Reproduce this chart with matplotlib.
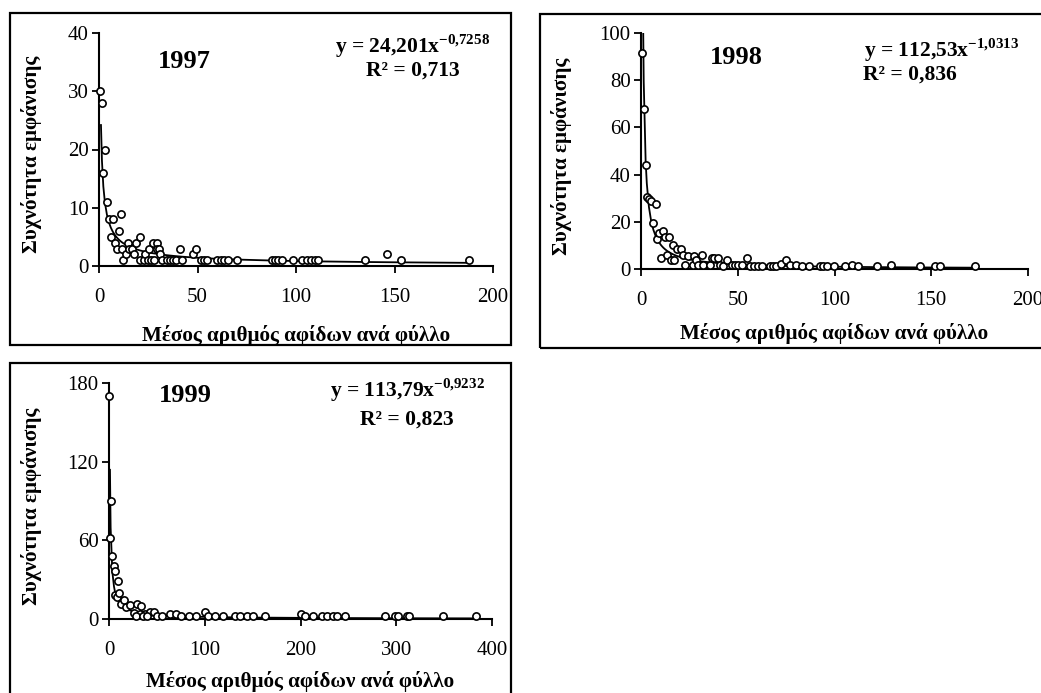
import numpy as np
import matplotlib
matplotlib.use('Agg')
import matplotlib.pyplot as plt
from matplotlib.patches import Rectangle

plt.rcParams['font.family'] = ['Liberation Serif', 'DejaVu Serif']
plt.rcParams['mathtext.fontset'] = 'custom'
plt.rcParams['mathtext.rm'] = 'Liberation Serif'
plt.rcParams['mathtext.bf'] = 'Liberation Serif:bold'

# --- data ---
x_1997 = [0.5, 1.5, 2.2, 3, 4, 5, 6, 7, 8, 9, 10, 11, 11.5, 12, 13.5, 14.6, 15, 17, 18, 19,
          20.7, 21, 22.7, 23.5, 24.7, 25.2, 26.2, 27.3, 28, 29.3, 29.5, 30.3, 31, 31.8, 34.4,
          36, 37.8, 39, 41, 42, 47.6, 49, 52, 53.3, 54.7, 60, 61.8, 63.5, 65.4, 70.3, 87.7,
          89.4, 91, 92.8, 98.7, 103, 105.5, 107.7, 109.7, 111.4, 134.8, 146, 153.3, 187.6]
y_1997 = [30, 28, 16, 20, 11, 8, 5, 8, 4, 3, 6, 9, 3, 1, 2, 4, 3, 3, 2, 4,
          5, 1, 1, 2, 1, 3, 1, 4, 1, 4, 3, 3, 2, 1, 1,
          1, 1, 1, 3, 1, 2, 3, 1, 1, 1, 1, 1, 1, 1, 1, 1,
          1, 1, 1, 1, 1, 1, 1, 1, 1, 1, 2, 1, 1]

x_1998 = [0.5, 1.4, 2.4, 3, 4.1, 5.2, 6.4, 7.6, 8.3, 9.3, 10.5, 11.5, 12.2, 13.3, 14.6, 15.3,
          16.4, 17.2, 18.4, 20.5, 21.5, 22.5, 24.4, 26.7, 27.4, 28.2, 29.6, 31.7, 32.2, 35.6,
          36.5, 37.9, 39.6, 40.8, 42.5, 44.6, 46.8, 48.5, 50.3, 52, 54.7, 56.3, 58.4, 60.6,
          62.7, 66.6, 68.3, 70, 72.6, 74.9, 76.9, 79.9, 83, 87, 92.4, 94.1, 95.9, 99.7,
          105.3, 109, 112.2, 122.2, 129, 144, 151.8, 154.4, 172.5]
y_1998 = [91.5, 68, 44, 30.3, 29.7, 29, 19.5, 27.5, 12.6, 15.4, 4.7, 16.1, 13.6, 6.1, 13.6, 3.7,
          10, 3.7, 8.6, 8.6, 6.1, 1.6, 5.4, 1.6, 5.4, 3.7, 1.6, 6.1, 1.6, 1.6,
          4.7, 4.7, 4.7, 1.6, 1.3, 3.7, 1.6, 1.6, 1.6, 1.6, 4.7, 1.3, 1.3, 1.3,
          1.3, 1.3, 1.3, 1.3, 2.3, 3.7, 1.8, 1.8, 1.3, 1.3, 1.3, 1.3, 1.3, 1.3,
          1.3, 1.8, 1.3, 1.3, 1.8, 1.3, 1.3, 1.3, 1.3]

x_1999 = [0.3, 1, 1.7, 3.5, 5.2, 5.9, 6.3, 8.4, 9.4, 10, 12.5, 15.3, 18, 22.3, 25.8, 29.3, 32,
          33.8, 38, 42.5, 46.7, 28, 35, 40, 50, 55, 63.5, 70.4, 75.7, 84, 91, 100, 103.6,
          110.5, 119, 131.5, 136.7, 143.7, 150.7, 162.9, 200.5, 204.7, 213.4, 222, 227.4,
          234.4, 238.5, 246.6, 288.4, 298.8, 302.3, 311, 312.8, 348.7, 383.6]
y_1999 = [170, 61.4, 90, 48.2, 40.8, 36.7, 18, 16.8, 29, 20, 11.7, 14.3, 9.2, 10.4, 4.6, 11.7, 4,
          10, 4, 5.4, 5.4, 2, 2, 2, 2, 2, 3.6, 3.6, 2, 2, 2, 5.4, 2,
          2, 2, 2, 2, 2, 2, 2, 3.6, 2, 2, 2, 2,
          2, 2, 2, 2, 2, 2, 2, 2, 2, 2]

years = ['1997', '1998', '1999']
coef_a = [24.201, 112.53, 113.79]
coef_b = [-0.7258, -1.0313, -0.9232]
eq_a_txt = ['24,201', '112,53', '113,79']
eq_b_txt = ['-0{,}7258', '-1{,}0313', '-0{,}9232']
r2_txt = ['0,713', '0,836', '0,823']
x_max = [200, 200, 400]
y_max = [40, 100, 180]
y_step = [10, 20, 60]
x_step = [50, 50, 100]

xlabel = 'Μέσος αριθμός αφίδων ανά φύλλο'
ylabel = 'Συχνότητα εμφάνισης'

W, H = 1041, 693
fig = plt.figure(figsize=(W / 100, H / 100), dpi=100)

def fx(px):
    return px / W

def fy(py):
    return 1 - py / H

# pixel layout: axes (left, right, top, bottom), box (left, top, right, bottom)
axes_px = [(99, 493, 33, 266), (641, 1028, 33, 269), (109, 492, 383, 619)]
box_px = [(10, 13, 511, 345), (540, 14, 1060, 348), (10, 363, 511, 720)]
year_px = [(184, 62), (736, 57), (185, 395)]
eq_px = [(490, 46, 'right'), (864, 50, 'left'), (485, 390, 'right')]
r2_px = [(413, 71, 'center'), (863, 75, 'left'), (407, 420, 'center')]
xlab_py = [335, 334, 681]
ylab_px = [32, 562, 32]

xs_all = [x_1997, x_1998, x_1999]
ys_all = [y_1997, y_1998, y_1999]

for i in range(3):
    l, r, t, b = axes_px[i]
    ax = fig.add_axes([fx(l), fy(b), fx(r) - fx(l), fy(t) - fy(b)])
    x = np.array(xs_all[i])
    y = np.array(ys_all[i])
    ax.plot(x, y, ls='none', marker='o', ms=5.2, mfc='white', mec='black', mew=1.2,
            clip_on=False, zorder=3)
    xt = np.concatenate([[1.0], np.sort(x[x > 1])])
    ax.plot(xt, coef_a[i] * xt ** coef_b[i], color='black', lw=1.3, zorder=2)

    ax.set_xlim(0, x_max[i])
    ax.set_ylim(0, y_max[i])
    ax.set_xticks(np.arange(0, x_max[i] + 1, x_step[i]))
    ax.set_yticks(np.arange(0, y_max[i] + 1, y_step[i]))
    for s in ['top', 'right']:
        ax.spines[s].set_visible(False)
    for s in ['left', 'bottom']:
        ax.spines[s].set_linewidth(1.5)
    ax.tick_params(direction='out', length=5, width=1.3, labelsize=15)
    ax.tick_params(axis='x', pad=10.5)
    ax.tick_params(axis='y', pad=2.5)

    bl, bt, br, bb = box_px[i]
    fig.add_artist(Rectangle((fx(bl), fy(bb)), fx(br) - fx(bl), fy(bt) - fy(bb),
                             transform=fig.transFigure, fill=False, lw=1.6, ec='black'))

    fig.text(fx(year_px[i][0]), fy(year_px[i][1]), years[i], fontsize=19,
             fontweight='bold', ha='center', va='center')
    ex, ey, eha = eq_px[i]
    fig.text(fx(ex), fy(ey), 'y = ' + eq_a_txt[i] + 'x$^{\\mathbf{' + eq_b_txt[i] + '}}$',
             fontsize=15.5, fontweight='bold', ha=eha, va='center')
    rx, ry, rha = r2_px[i]
    fig.text(fx(rx), fy(ry), 'R² = ' + r2_txt[i], fontsize=15.5, fontweight='bold',
             ha=rha, va='center')

    fig.text(fx((l + r) / 2), fy(xlab_py[i]), xlabel, fontsize=15.2, fontweight='bold',
             ha='center', va='center')
    fig.text(fx(ylab_px[i]), fy((t + b) / 2 + 5), ylabel, fontsize=15.2, fontweight='bold',
             ha='center', va='center', rotation=90)

fig.savefig('out.png', dpi=100)
